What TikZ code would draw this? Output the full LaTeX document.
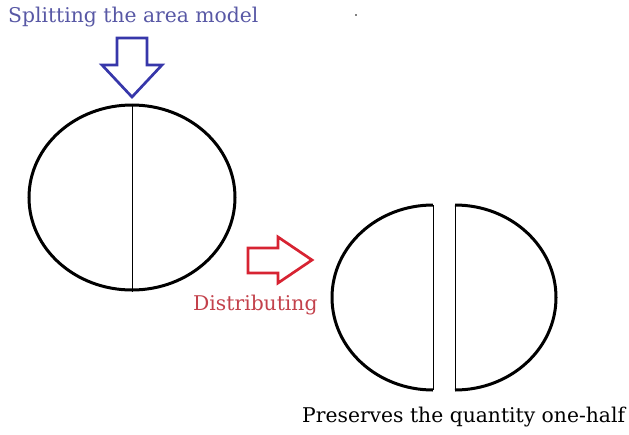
\documentclass[tikz,border=0pt]{standalone}
\usepackage{fontspec}
\setmainfont{DejaVu Serif}
\usepackage{xcolor}
\usepackage{tikz}
\usetikzlibrary{shapes.geometric}

\definecolor{splitblue}{RGB}{55,55,170}
\definecolor{splittext}{RGB}{88,88,165}
\definecolor{distred}{RGB}{215,35,50}
\definecolor{disttext}{RGB}{195,65,75}

\begin{document}
\begin{tikzpicture}[
  x=1pt, y=-1pt,
  model/.style={draw, ellipse, line width=3pt, minimum width=206pt, minimum height=185pt, inner sep=0pt},
  half/.style={draw, line width=3pt},
  divider/.style={draw, line width=1pt},
  blockarrow/.style={line width=2.7pt, line join=miter},
  caption/.style={anchor=base west, inner sep=0pt, font=\fontsize{20.3}{24}\selectfont}
]
  \useasboundingbox (0,0) rectangle (629,434);

  % labels
  \node[caption, text=splittext] (split) at (8,22) {Splitting the area model};
  \node[caption, text=disttext] (dist) at (193,310) {Distributing};
  \node[caption] (keep) at (302,422) {Preserves the quantity one-half};

  % whole area model
  \node[model] (whole) at (132,197.5) {};
  \draw[divider] (whole.north) -- (whole.south);

  % arrows
  \draw[blockarrow, draw=splitblue] (117,38) -- (147,38) -- (147,65) -- (162,65) -- (132,97)
    -- (102,65) -- (117,65) -- cycle;
  \draw[blockarrow, draw=distred] (248,248) -- (278,248) -- (278,237) -- (312,260) -- (278,283)
    -- (278,273) -- (248,273) -- cycle;

  % the two halves
  \coordinate (lefttop) at (433,205);
  \coordinate (leftbot) at (433,390);
  \coordinate (righttop) at (455,205);
  \coordinate (rightbot) at (455,390);
  \draw[half] (lefttop) arc[start angle=90, end angle=270, x radius=101pt, y radius=92.5pt];
  \draw[divider] (lefttop) -- (leftbot);
  \draw[half] (righttop) arc[start angle=90, end angle=-90, x radius=101pt, y radius=92.5pt];
  \draw[divider] (righttop) -- (rightbot);

  \fill (356,15) circle (0.9);
\end{tikzpicture}
\end{document}
